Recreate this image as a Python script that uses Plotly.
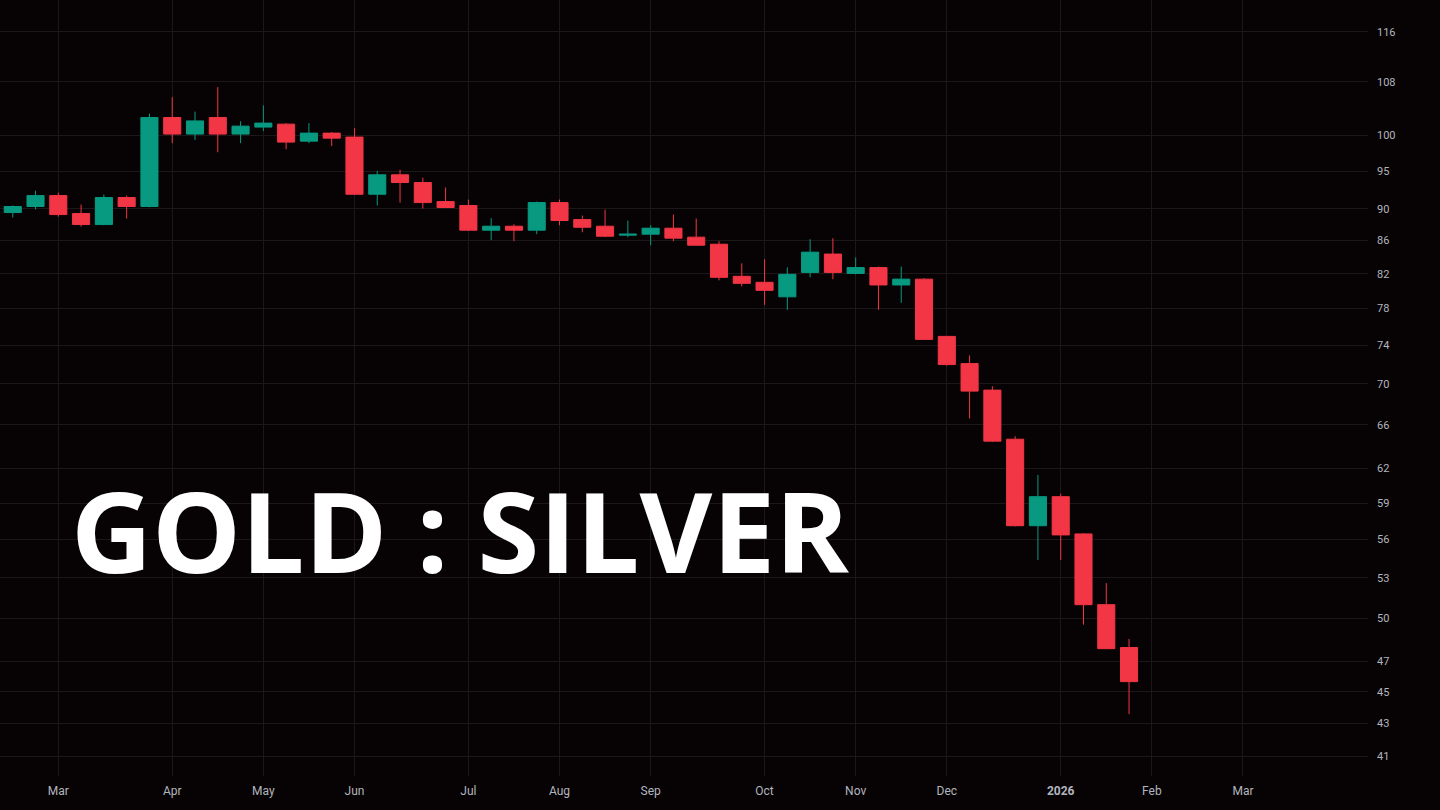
import pandas as pd
import plotly.graph_objects as go

# Weekly bars (week starting Monday)
week_start = pd.date_range("2025-02-17", periods=50, freq="7D")

open_ = [89.52, 90.30, 91.73, 89.39, 87.99, 91.47, 90.30, 102.6, 100.19, 102.6,
         100.19, 101.2, 101.63, 99.18, 100.33, 99.76, 91.9, 94.5, 93.46, 90.94,
         90.43, 87.28, 87.78, 87.28, 90.81, 88.62, 87.78, 86.66, 86.78, 87.53,
         86.41, 85.54, 81.69, 80.99, 79.32, 82.15, 84.34, 82.03, 82.72, 80.68,
         81.36, 74.94, 72.07, 69.38, 64.66, 57.11, 59.54, 56.44, 50.99, 47.95]
high = [90.43, 92.38, 92.12, 90.55, 91.86, 91.73, 103.19, 105.63, 103.47, 107.18,
        102.06, 104.4, 101.78, 101.78, 100.47, 101.05, 95.04, 95.17, 94.12, 92.8,
        91.2, 88.8, 88.03, 90.94, 91.2, 89.13, 89.9, 88.5, 87.9, 89.26,
        88.75, 85.92, 83.23, 83.71, 82.75, 86.16, 86.28, 83.94, 82.84, 82.84,
        81.47, 75.0, 72.92, 69.77, 64.94, 61.43, 59.8, 56.5, 52.59, 48.54]
low = [88.88, 89.91, 89.0, 87.73, 87.9, 88.75, 90.2, 98.9, 99.33, 97.62,
       98.9, 100.62, 98.04, 98.9, 98.47, 91.8, 90.43, 90.81, 90.04, 90.1,
       87.2, 86.04, 85.92, 86.78, 87.9, 87.03, 86.41, 86.41, 85.42, 85.92,
       85.35, 81.22, 80.52, 78.41, 77.85, 81.58, 81.35, 81.92, 77.85, 78.64,
       74.6, 71.86, 66.62, 64.4, 57.05, 54.37, 54.37, 49.55, 47.85, 43.58]
close = [90.30, 91.73, 89.26, 87.99, 91.47, 90.30, 102.6, 100.19, 102.1, 100.19,
         101.34, 101.78, 99.04, 100.33, 99.61, 91.9, 94.5, 93.46, 90.81, 90.17,
         87.28, 87.78, 87.28, 90.81, 88.5, 87.65, 86.53, 86.78, 87.53, 86.29,
         85.42, 81.57, 80.87, 80.06, 81.92, 84.57, 82.15, 82.72, 80.68, 81.36,
         74.62, 71.97, 69.28, 64.48, 57.11, 59.54, 56.36, 50.99, 47.87, 45.66]

# Axis ticks
x_tick_dates = ["2025-03-03", "2025-04-07", "2025-05-05", "2025-06-02", "2025-07-07",
                "2025-08-04", "2025-09-01", "2025-10-06", "2025-11-03", "2025-12-01",
                "2026-01-05", "2026-02-02", "2026-03-02"]
x_tick_labels = ["Mar", "Apr", "May", "Jun", "Jul", "Aug", "Sep", "Oct", "Nov", "Dec",
                 "<b>2026</b>", "Feb", "Mar"]
y_ticks = [41, 43, 45, 47, 50, 53, 56, 59, 62, 66, 70, 74, 78, 82, 86, 90, 95, 100, 108, 116]

title_text = "GOLD : SILVER"

BG = "#070304"
GRID = "#1c1819"
UP = "#089981"
DOWN = "#F23645"
TICK_COLOR = "#b2b5be"

fig = go.Figure(go.Candlestick(
    x=week_start, open=open_, high=high, low=low, close=close,
    increasing=dict(fillcolor=UP, line=dict(color=UP, width=1)),
    decreasing=dict(fillcolor=DOWN, line=dict(color=DOWN, width=1)),
    whiskerwidth=0, hoverinfo="skip", showlegend=False,
))

fig.update_layout(
    width=1440, height=810,
    paper_bgcolor=BG, plot_bgcolor=BG,
    margin=dict(l=0, r=72, t=0, b=34),
    boxgap=0.25, boxgroupgap=0,
    showlegend=False,
    xaxis=dict(
        type="date",
        range=["2025-02-13 02:00", "2026-04-09 10:00"],
        rangeslider=dict(visible=False),
        tickmode="array", tickvals=x_tick_dates, ticktext=x_tick_labels,
        showgrid=True, gridcolor=GRID, gridwidth=1,
        zeroline=False, showline=False, ticks="",
        ticklabelstandoff=6,
        tickfont=dict(family="Roboto", size=12, color=TICK_COLOR),
    ),
    yaxis=dict(
        type="log", side="right",
        range=[1.6007, 2.0844],
        tickmode="array", tickvals=y_ticks, ticktext=[str(v) for v in y_ticks],
        showgrid=True, gridcolor=GRID, gridwidth=1,
        zeroline=False, showline=False, ticks="",
        ticklabelstandoff=8,
        tickfont=dict(family="Roboto", size=11, color=TICK_COLOR),
    ),
    annotations=[dict(
        text=f"<b>{title_text}</b>", xref="paper", yref="paper",
        x=69 / 1368, y=1 - 529.5 / 776, xanchor="left", yanchor="middle",
        showarrow=False,
        font=dict(family="Open Sans", size=112, color="#ffffff"),
    )],
)

fig.write_html(
    "out.html",
    config={"displayModeBar": False},
    post_script="document.body.style.margin='0';document.body.style.background='#070304';",
)
